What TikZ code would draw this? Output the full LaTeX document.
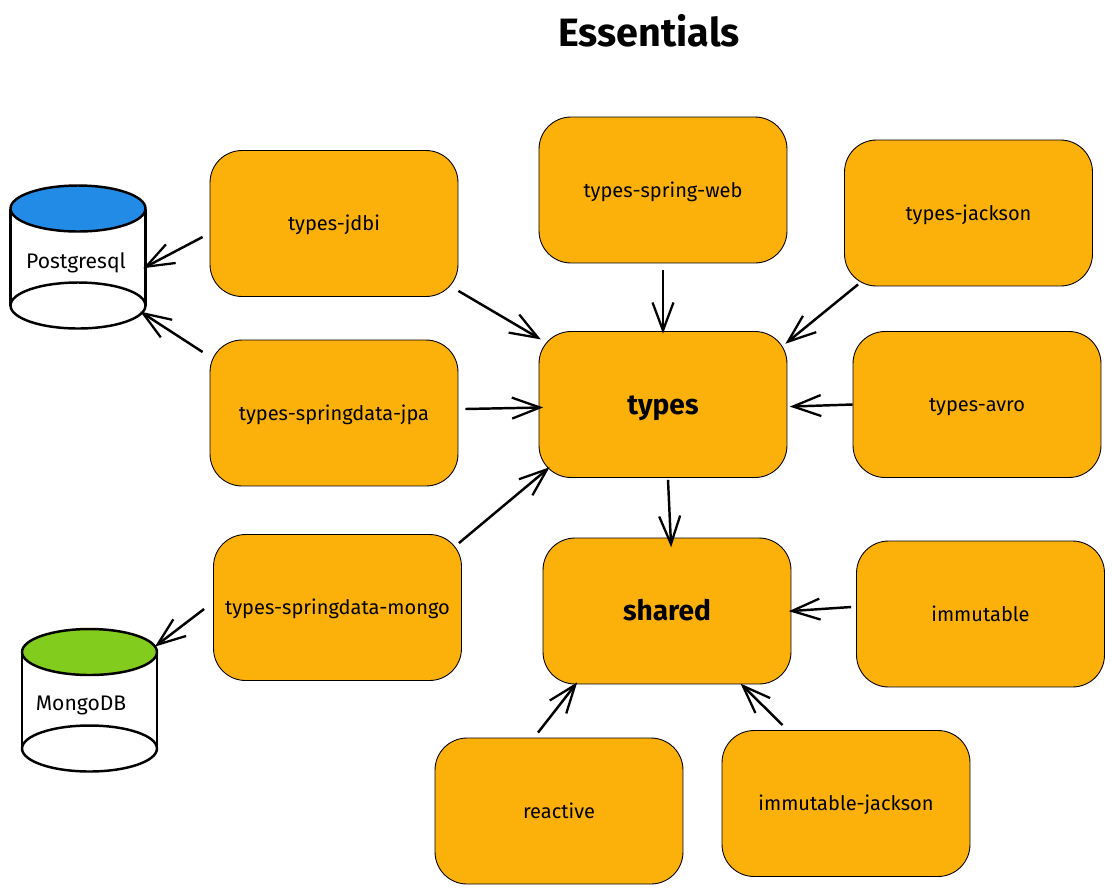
\documentclass[tikz,border=0pt]{standalone}
\usepackage{fontspec}
\setmainfont{Fira Sans}
\usetikzlibrary{arrows.meta,shapes.geometric}
\definecolor{boxfill}{HTML}{FCB00A}
\definecolor{pgblue}{HTML}{228BE6}
\definecolor{mongogreen}{HTML}{82CC1E}
\begin{document}
\begin{tikzpicture}[x=0.02cm,y=-0.02cm,
        module/.style={draw=black,line width=0.5pt,fill=boxfill,rounded corners=0.64cm,
            minimum width=4.96cm,minimum height=2.92cm,inner sep=0pt,text height=8pt,text depth=0pt,
            font=\fontsize{11.4}{13}\selectfont},
        core/.style={module,text height=11pt,font=\fontsize{16}{19}\selectfont\bfseries},
        disc/.style={ellipse,draw=black,line width=1.4pt,minimum width=2.7cm,minimum height=0.92cm,
            inner sep=0pt,outer sep=0pt,fill=white},
        dblabel/.style={font=\fontsize{12}{14}\selectfont,text height=8pt,text depth=0pt},
        conn/.style={line width=1.4pt,shorten >=-1.5pt,
            -{Straight Barb[length=0.56cm,width=0.42cm,line width=1.3pt]}}]
    \useasboundingbox (0,0) rectangle (1115,893);

    \node[font=\fontsize{22.5}{26}\selectfont\bfseries] (title) at (649,31) {Essentials};

    % modules
    \node[module] (jdbi) at (334,223.5) {types-jdbi};
    \node[module] (jpa) at (334,413) {types-springdata-jpa};
    \node[module] (mongo) at (337.5,607.5) {types-springdata-mongo};
    \node[module] (web) at (663,190) {types-spring-web};
    \node[module] (jackson) at (968.5,213) {types-jackson};
    \node[core] (types) at (663,404.5) {types};
    \node[module] (avro) at (977,404.5) {types-avro};
    \node[core] (shared) at (667,611) {shared};
    \node[module] (immutable) at (980.5,614) {immutable};
    \node[module] (reactive) at (559,811) {reactive};
    \node[module] (immjackson) at (846,803.5) {immutable-jackson};

    % databases
    \node[disc] (pgbottom) at (78,305.5) {};
    \node[disc,fill=pgblue] (pgtop) at (78,208.5) {};
    \draw[line width=1.4pt] (pgtop.west) -- (pgbottom.west) (pgtop.east) -- (pgbottom.east);
    \node[dblabel] (pglabel) at (76,261) {Postgresql};

    \node[disc] (mongobottom) at (89.5,748.5) {};
    \node[disc,fill=mongogreen] (mongotop) at (89.5,652) {};
    \draw[line width=1.4pt] (mongotop.west) -- (mongobottom.west) (mongotop.east) -- (mongobottom.east);
    \node[dblabel] (mongolabel) at (81,703) {MongoDB};

    % connectors
    \draw[conn] ([shift={(-7,13.5)}]jdbi.west) -- ([shift={(0,-38.5)}]pgbottom.east);
    \draw[conn] ([shift={(-7,-61)}]jpa.west) -- ([shift={(-3,7.5)}]pgbottom.east);
    \draw[conn] ([shift={(-9,1.5)}]mongo.west) -- ([shift={(0,-7)}]mongotop.east);
    \draw[conn] ([shift={(0,-6)}]jdbi.south east) -- ([shift={(0,7)}]types.north west);
    \draw[conn] ([shift={(7,-4)}]jpa.east) -- ([shift={(2,3)}]types.west);
    \draw[conn] ([shift={(-3,9)}]mongo.north east) -- ([shift={(9,-9)}]types.south west);
    \draw[conn] ([shift={(0,7)}]web.south) -- (types.north);
    \draw[conn] ([shift={(14,-2)}]jackson.south west) -- ([shift={(0,11)}]types.north east);
    \draw[conn] (avro.west) -- ([shift={(5,2)}]types.east);
    \draw[conn] ([shift={(5,2)}]types.south) -- ([shift={(4,7)}]shared.north);
    \draw[conn] ([shift={(-5,-7)}]immutable.west) -- (shared.east);
    \draw[conn] ([shift={(-21,-5)}]reactive.north) -- ([shift={(33,0)}]shared.south west);
    \draw[conn] ([shift={(61,-5)}]immjackson.north west) -- ([shift={(-49,1)}]shared.south east);
\end{tikzpicture}
\end{document}
